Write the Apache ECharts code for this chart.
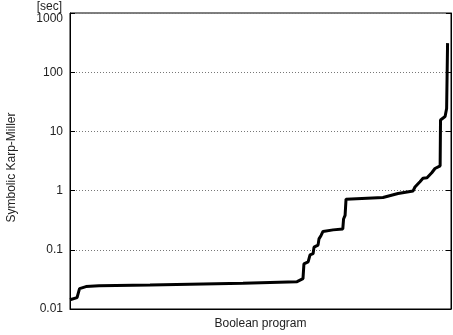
<!DOCTYPE html>
<html>
<head>
<meta charset="utf-8">
<script src="https://cdn.jsdelivr.net/npm/echarts@6/dist/echarts.min.js"></script>
<style>html,body{margin:0;padding:0;background:#fff}#c{width:453px;height:335px}</style>
</head>
<body>
<div id="c"></div>
<script>
// Boolean programs sorted by running time (rank on x, seconds on y)
var programRank = [0, 3.7, 4.7, 5.0, 8.4, 15.2, 42, 90.8, 119.2, 122.3, 122.8, 125, 126, 127.6, 128.1, 130.2, 130.7, 131.8, 132.8, 138.1, 143.2, 143.6, 144.4, 144.9, 164.3, 172.2, 180.1, 181.1, 183.7, 185.3, 187.4, 189.9, 191.6, 194.3, 194.5, 196.9, 197.7, 198.2];
var seconds = [0.0143, 0.0156, 0.0159, 0.0221, 0.0239, 0.0248, 0.0255, 0.0271, 0.029, 0.0325, 0.058, 0.0625, 0.0819, 0.086, 0.111, 0.120, 0.153, 0.175, 0.204, 0.217, 0.225, 0.331, 0.382, 0.716, 0.764, 0.891, 0.988, 1.15, 1.41, 1.61, 1.65, 2.0, 2.36, 2.62, 15.6, 17.8, 24.4, 310];
var yTicks = [0.01, 0.1, 1, 10, 100, 1000];

var font = 'Liberation Sans, Arial, Helvetica, sans-serif';
var fs = 12;
var data = programRank.map(function (r, i) { return [r, seconds[i]]; });

var chart = echarts.init(document.getElementById('c'));
chart.setOption({
  animation: false,
  backgroundColor: '#fff',
  grid: { left: 70, right: 2, top: 13, bottom: 23, show: true, borderColor: '#000', borderWidth: 1 },
  xAxis: {
    type: 'value', min: 0, max: 200,
    name: 'Boolean program', nameLocation: 'middle', nameGap: 9,
    nameTextStyle: { fontFamily: font, fontSize: fs, color: '#222' },
    axisLine: { show: true, lineStyle: { color: '#000', width: 1 } },
    axisTick: { show: false }, axisLabel: { show: false }, splitLine: { show: false }
  },
  yAxis: [{
    type: 'log', logBase: 10, min: yTicks[0], max: yTicks[yTicks.length - 1],
    name: '[sec]', nameLocation: 'end', nameGap: -1,
    nameTextStyle: { fontFamily: font, fontSize: fs, color: '#222', align: 'right', padding: [0, 8, 0, 0] },
    axisLine: { show: true, lineStyle: { color: '#000', width: 1 } },
    axisTick: { show: true, inside: true, length: 5, lineStyle: { color: '#000' } },
    axisLabel: {
      margin: 7, fontFamily: font, fontSize: fs, color: '#222',
      formatter: function (v) {
        var s = String(+v.toPrecision(6));
        return v >= 1000 ? '{top|' + s + '}' : s;
      },
      rich: { top: { fontFamily: font, fontSize: fs, color: '#222', padding: [12, 0, 0, 0] } }
    },
    splitLine: { show: true, lineStyle: { color: '#777', type: [1, 2], width: 1 } }
  }, {
    type: 'log', logBase: 10, min: yTicks[0], max: yTicks[yTicks.length - 1], position: 'right',
    axisLine: { show: true, lineStyle: { color: '#000', width: 1 } },
    axisTick: { show: true, inside: true, length: 5, lineStyle: { color: '#000' } },
    axisLabel: { show: false }, splitLine: { show: false }
  }],
  graphic: [{
    type: 'text', left: 6, top: 'middle',
    rotation: Math.PI / 2,
    style: { text: 'Symbolic Karp-Miller', fontFamily: font, fontSize: fs, fill: '#222' }
  }],
  series: [{
    type: 'line', data: data, showSymbol: false, symbol: 'none',
    lineStyle: { color: '#000', width: 3 }, z: 5
  }]
});
</script>
</body>
</html>
